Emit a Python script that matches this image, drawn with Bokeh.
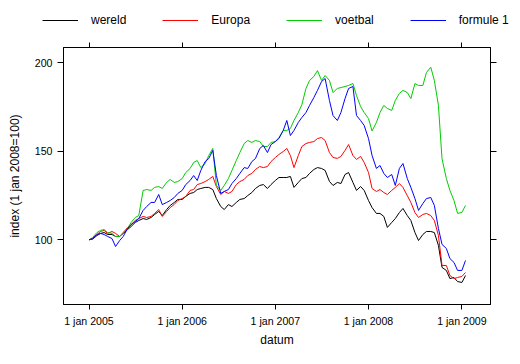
import datetime as dt
import pandas as pd
from bokeh.plotting import figure
from bokeh.layouts import column
from bokeh.models import Range1d, FixedTicker, LinearAxis, DatetimeAxis, Legend, LegendItem
from bokeh.embed import file_html
from bokeh.resources import INLINE

# semi-monthly observation dates (1st and 15th of each month)
dates = pd.date_range("2005-01-01", "2009-01-15", freq="SMS")

wereld = [
    100, 100.4, 102.4, 103.6, 104.1, 103.0, 103.0, 101.9, 101.9, 103.6, 105.8, 107.5,
    109.8, 110.9, 112.0, 111.5, 112.6, 114.3, 116.0, 113.7, 117.1, 119.4, 121.1, 122.8,
    122.8, 124.5, 126.2, 126.7, 128.4, 129.0, 129.6, 129.6, 128.4, 123.3, 118.8, 117.1,
    119.9, 118.8, 121.1, 122.8, 123.3, 125.0, 126.7, 129.0, 130.7, 131.2, 129.0, 131.2,
    133.5, 135.2, 135.2, 135.2, 135.8, 129.6, 132.4, 134.6, 135.2, 137.5, 139.7, 140.8,
    140.3, 139.2, 133.0, 130.7, 132.4, 131.8, 136.9, 138.0, 132.4, 127.9, 130.1, 127.9,
    122.2, 118.2, 114.9, 114.9, 113.2, 107.0, 109.8, 112.0, 115.4, 117.7, 113.7, 110.9,
    104.1, 99.6, 103.0, 104.7, 104.7, 104.1, 96.8, 84.4, 82.7, 78.1, 78.7, 76.4,
    75.9, 79.8,
]
europa = [
    100, 100.7, 103.0, 104.7, 105.3, 103.6, 104.7, 103.6, 101.9, 104.1, 106.9, 108.6,
    110.9, 112.0, 113.2, 112.6, 113.2, 114.9, 117.1, 113.2, 116.0, 118.2, 120.0, 122.2,
    123.3, 124.5, 127.9, 128.4, 131.2, 131.8, 132.9, 134.1, 135.8, 130.1, 125.6, 127.3,
    126.2, 127.3, 131.2, 132.9, 134.1, 136.3, 137.5, 139.7, 141.4, 140.8, 141.4, 144.2,
    146.5, 148.2, 149.9, 151.6, 147.6, 140.8, 147.6, 152.7, 154.4, 155.0, 155.5, 157.2,
    157.8, 156.1, 149.3, 146.5, 146.0, 147.1, 150.5, 153.8, 147.6, 145.4, 147.1, 143.7,
    138.0, 129.0, 127.3, 128.4, 126.7, 125.6, 127.9, 129.6, 131.8, 129.6, 125.0, 121.1,
    115.4, 112.6, 114.3, 114.9, 113.7, 110.9, 102.4, 85.5, 85.5, 79.8, 78.1, 78.7,
    79.3, 81.5,
]
voetbal = [
    100, 101.3, 104.1, 105.3, 105.8, 104.1, 103.6, 101.9, 101.9, 104.1, 106.4, 109.8,
    112.6, 113.7, 127.9, 128.4, 127.9, 129.6, 130.1, 129.0, 132.4, 134.1, 132.4, 132.9,
    134.6, 138.0, 140.3, 143.7, 144.8, 140.8, 143.1, 147.6, 151.6, 130.7, 127.9, 130.7,
    134.6, 139.2, 144.8, 149.3, 154.4, 156.1, 155.0, 156.1, 155.5, 152.7, 152.7, 155.0,
    155.5, 157.8, 161.8, 161.8, 162.9, 167.4, 171.9, 176.4, 185.5, 190.0, 192.3, 195.6,
    190.0, 192.8, 190.0, 183.2, 185.5, 186.0, 186.6, 187.2, 188.3, 181.5, 175.3, 171.9,
    168.5, 161.5, 166.3, 171.9, 175.9, 174.2, 173.1, 178.7, 182.7, 184.4, 183.2, 179.8,
    188.3, 187.2, 187.2, 194.5, 197.5, 190.0, 175.9, 145.9, 134.6, 127.9, 122.2, 114.9,
    115.5, 119.4,
]
formule1 = [
    100, 100.7, 103.0, 103.6, 103.0, 101.9, 100.7, 96.2, 99.6, 101.9, 106.4, 108.6,
    110.3, 112.0, 116.6, 118.8, 121.1, 121.1, 125.6, 119.9, 121.1, 122.2, 123.9, 126.2,
    127.9, 131.2, 133.5, 136.3, 133.5, 139.2, 144.2, 145.9, 150.5, 136.3, 126.2, 127.3,
    128.4, 131.8, 134.6, 137.5, 140.8, 140.3, 144.2, 145.9, 151.6, 153.3, 149.3, 153.8,
    155.5, 157.2, 161.8, 167.4, 158.9, 161.8, 166.3, 169.1, 171.9, 175.9, 180.4, 184.4,
    189.4, 191.1, 178.7, 170.2, 167.4, 171.9, 179.8, 185.5, 186.6, 170.2, 167.4, 164.6,
    157.2, 147.6, 140.3, 142.0, 137.5, 135.2, 136.9, 130.7, 140.3, 143.1, 134.6, 129.6,
    123.3, 116.6, 120.5, 123.3, 123.9, 119.4, 106.4, 97.4, 95.1, 89.4, 87.2, 82.7,
    82.7, 88.3,
]

series_names = ["wereld", "Europa", "voetbal", "formule 1"]
series_values = [wereld, europa, voetbal, formule1]
series_colors = ["#000000", "#FF0000", "#00CC00", "#0000FF"]

x_tick_dates = [dt.datetime(y, 1, 1) for y in range(2005, 2010)]
x_tick_labels = ["1 jan 2005", "1 jan 2006", "1 jan 2007", "1 jan 2008", "1 jan 2009"]
y_ticks = [100, 150, 200]

FONT = "Liberation Sans"
W = 512
LEG_H = 36

# ---- main chart ----
p = figure(
    width=W, height=320,
    x_axis_type="datetime",
    x_range=Range1d(dt.datetime(2004, 9, 23), dt.datetime(2009, 4, 23)),
    y_range=Range1d(63.45, 208.64),
    output_backend="svg", toolbar_location=None,
    min_border_left=63, min_border_right=22, min_border_top=11, min_border_bottom=52,
)
p.frame_align = False
p.xgrid.grid_line_color = None
p.ygrid.grid_line_color = None
p.outline_line_color = "black"
p.outline_line_width = 1
p.background_fill_color = "white"
p.border_fill_color = "white"

for name, vals, col in zip(series_names, series_values, series_colors):
    p.line(list(dates), vals, line_color=col, line_width=1)

tick_ms = [pd.Timestamp(d).value // 10**6 for d in x_tick_dates]
overrides = {float(ms): lab for ms, lab in zip(tick_ms, x_tick_labels)}

def style_axis(ax, show_labels):
    ax.axis_line_color = "black"
    ax.major_tick_line_color = "black"
    ax.major_tick_in = 0
    ax.major_tick_out = 5
    ax.minor_tick_line_color = None
    ax.major_label_text_font = FONT
    ax.major_label_text_color = "black"
    ax.axis_label_text_font = FONT
    ax.axis_label_text_font_style = "normal"
    ax.axis_label_text_font_size = "12px"
    ax.axis_label_text_color = "black"
    if show_labels:
        ax.major_label_text_font_size = "10.6px"
    else:
        ax.major_label_text_alpha = 0
        ax.major_label_text_font_size = "1px"
        ax.major_label_standoff = 0

xa = p.xaxis[0]
xa.ticker = FixedTicker(ticks=tick_ms)
xa.major_label_overrides = overrides
xa.axis_label = "datum"
style_axis(xa, True)
xa.major_label_standoff = 5
xa.axis_label_standoff = 3

ya = p.yaxis[0]
ya.ticker = FixedTicker(ticks=y_ticks)
ya.axis_label = "index (1 jan 2008=100)"
style_axis(ya, True)
ya.major_tick_out = 6
ya.major_label_standoff = 5
ya.axis_label_standoff = 10

top = DatetimeAxis(ticker=FixedTicker(ticks=tick_ms))
style_axis(top, False)
p.add_layout(top, "above")

right = LinearAxis(ticker=FixedTicker(ticks=y_ticks))
style_axis(right, False)
right.major_tick_out = 6
p.add_layout(right, "right")

# ---- key above the chart (its series lie outside its own view, only the key shows) ----
lg = figure(
    width=W, height=LEG_H, x_range=Range1d(0, 1), y_range=Range1d(0, 1),
    x_axis_location=None, y_axis_location=None,
    output_backend="svg", toolbar_location=None, min_border=0,
)
lg.frame_align = False
lg.grid.visible = False
lg.outline_line_color = None
lg.background_fill_color = "white"
lg.border_fill_color = "white"
key_renderers = [
    lg.line(list(dates), vals, line_color=c, line_width=1)
    for vals, c in zip(series_values, series_colors)
]
legend = Legend(
    items=[LegendItem(label=n, renderers=[r]) for n, r in zip(series_names, key_renderers)],
    orientation="horizontal", location=(42, 6.5),
    glyph_width=36, glyph_height=12, label_standoff=13, spacing=36,
    padding=0, margin=0, border_line_color=None, background_fill_alpha=0,
    label_text_font=FONT, label_text_font_size="12px", label_text_color="black",
    label_height=20,
)
lg.add_layout(legend, "center")

layout = column(lg, p, spacing=0)
open("out.html", "w").write(file_html(layout, INLINE))
